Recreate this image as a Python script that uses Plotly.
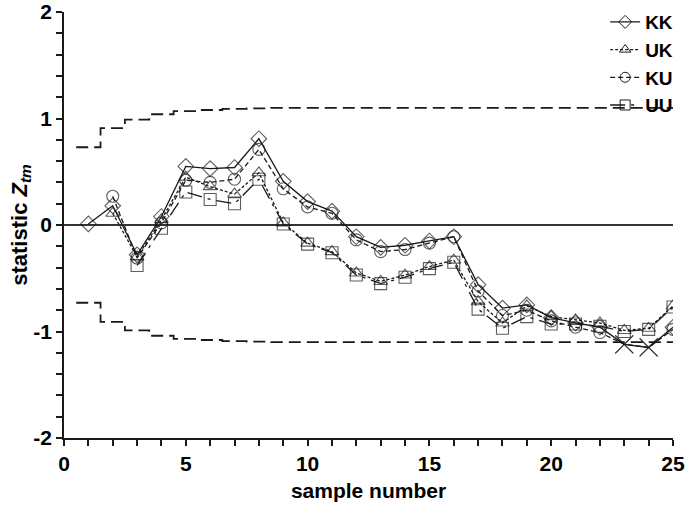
import plotly.graph_objects as go

samples = list(range(1, 26))
KK = [0.01, 0.18, -0.28, 0.08, 0.55, 0.53, 0.54, 0.81, 0.41, 0.22, 0.13, -0.11, -0.21,
      -0.19, -0.15, -0.11, -0.56, -0.78, -0.75, -0.87, -0.92, -0.96, -1.12, -1.15, -0.96]
UK = [None, 0.11, -0.30, 0.05, 0.45, 0.36, 0.29, 0.49, 0.02, -0.17, -0.25, -0.45, -0.53,
      -0.47, -0.39, -0.33, -0.72, -0.92, -0.76, -0.86, -0.89, -0.92, -0.99, -0.97, -0.76]
KU = [None, 0.27, -0.31, 0.02, 0.42, 0.40, 0.43, 0.71, 0.34, 0.17, 0.11, -0.14, -0.25,
      -0.23, -0.17, -0.11, -0.62, -0.85, -0.80, -0.90, -0.96, -1.01, -1.12, -1.15, -0.98]
UU = [None, None, -0.38, -0.03, 0.31, 0.24, 0.20, 0.43, 0.01, -0.18, -0.26, -0.47, -0.55,
      -0.49, -0.41, -0.35, -0.79, -0.97, -0.86, -0.93, -0.93, -0.95, -1.00, -0.98, -0.77]
upper_limit = [0.73, 0.91, 0.99, 1.04, 1.07, 1.08, 1.09, 1.095, 1.10, 1.10, 1.10, 1.10, 1.10,
               1.10, 1.10, 1.10, 1.10, 1.10, 1.10, 1.10, 1.10, 1.10, 1.10, 1.10, 1.10]
lower_limit = [-v for v in upper_limit]
exceed = [23, 24]  # samples flagged with an X
x_tickvals = [0, 5, 10, 15, 20, 25]
x_ticktext = ["0", "5", "10", "15", "20", "25"]
y_tickvals = [-2, -1, 0, 1, 2]
y_ticktext = ["-2", "-1", "0", "1", "2"]

C = "#1a1a1a"
FONT = "Liberation Sans"

fig = go.Figure()

# control limits as step lines
step_x = [s - 0.5 for s in samples] + [samples[-1]]
for lim in (upper_limit, lower_limit):
    fig.add_trace(go.Scatter(x=step_x, y=lim + [lim[-1]], mode="lines", line_shape="hv",
                             line=dict(color=C, width=1.8, dash="12px,6px"),
                             showlegend=False, hoverinfo="skip"))

series = [
    ("KK", KK, "solid", "diamond-open", True),
    ("UK", UK, "3px,2px", "triangle-up-open", False),
    ("KU", KU, "5px,3px", "circle-open", True),
    ("UU", UU, "longdashdot", "square-open", False),
]
for name, vals, dash, sym, flag in series:
    syms = [("x-thin-open" if (flag and s in exceed) else sym) for s in samples]
    szs = [(18 if (flag and s in exceed) else 12) for s in samples]
    fig.add_trace(go.Scatter(
        x=samples, y=vals, name=name, mode="lines+markers",
        line=dict(color=C, width=1.3, dash=dash),
        marker=dict(symbol=syms, size=szs, color=C, line=dict(color=C, width=1.1)),
        showlegend=False, connectgaps=False,
    ))
# legend entries
for name, vals, dash, sym, flag in series:
    fig.add_trace(go.Scatter(
        x=[None], y=[None], name=name, mode="lines+markers",
        line=dict(color=C, width=1.3, dash=dash),
        marker=dict(symbol=sym, size=10, color=C, line=dict(color=C, width=1)),
        showlegend=True,
    ))

fig.update_layout(
    width=685, height=505,
    margin=dict(l=64, r=12, t=12, b=67, autoexpand=False),
    plot_bgcolor="white", paper_bgcolor="white",
    font=dict(family=FONT, size=20, color="black", weight="bold"),
    legend=dict(xref="container", yref="container", x=0.99, y=0.994,
                xanchor="right", yanchor="top",
                bgcolor="rgba(0,0,0,0)",
                font=dict(family=FONT, size=19, color="black", weight="bold"),
                tracegroupgap=0),
    showlegend=True,
)
fig.update_xaxes(
    range=[0, 25], tickmode="array", tickvals=x_tickvals, ticktext=x_ticktext,
    ticks="outside", ticklen=6, tickwidth=1.5, automargin=False,
    tickcolor=C, showline=True, linecolor=C, linewidth=1.5, showgrid=False, zeroline=False,
    tickfont=dict(family=FONT, size=21, color="black", weight="bold"),
    minor=dict(dtick=1, tick0=0, ticks="outside", ticklen=6, tickwidth=1.5, tickcolor=C, showgrid=False),
    title=dict(text="sample number", font=dict(family=FONT, size=21, color="black", weight="bold"),
               standoff=9),
)
fig.update_yaxes(
    range=[-2, 2], tickmode="array", tickvals=y_tickvals, ticktext=y_ticktext,
    ticks="outside", ticklen=6, tickwidth=1.5, automargin=False,
    tickcolor=C, showline=True, linecolor=C, linewidth=1.5, showgrid=False,
    zeroline=True, zerolinecolor="#333", zerolinewidth=2.2,
    tickfont=dict(family=FONT, size=21, color="black", weight="bold"),
    minor=dict(dtick=0.2, tick0=0, ticks="outside", ticklen=6, tickwidth=1.5, tickcolor=C, showgrid=False),
    title=dict(text="statistic <i>Z</i><sub><i>tm</i></sub>",
               font=dict(family=FONT, size=22, color="black", weight="bold"), standoff=0),
)

fig.write_html("out.html", config={"displayModeBar": False},
               post_script="document.body.style.margin='0';document.body.style.padding='0';")
